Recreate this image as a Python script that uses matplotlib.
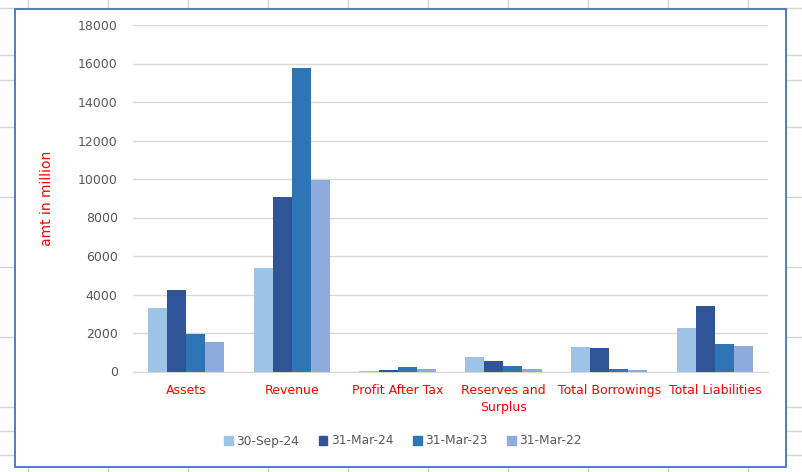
import numpy as np
import matplotlib.pyplot as plt
from matplotlib.lines import Line2D
from matplotlib.patches import Rectangle

# values (amt in million)
categories = ["Assets", "Revenue", "Profit After Tax", "Reserves and\nSurplus",
              "Total Borrowings", "Total Liabilities"]
series_names = ["30-Sep-24", "31-Mar-24", "31-Mar-23", "31-Mar-22"]
sep24 = [3300, 5380, 40, 750, 1270, 2250]
mar24 = [4220, 9050, 90, 545, 1220, 3390]
mar23 = [1950, 15750, 230, 285, 130, 1425]
mar22 = [1530, 9950, 130, 130, 80, 1320]
yticks = [0, 2000, 4000, 6000, 8000, 10000, 12000, 14000, 16000, 18000]

colors = ["#9DC3E6", "#2F5597", "#2E75B6", "#8FAADC"]

W, H = 803, 472
fig = plt.figure(figsize=(W / 100, H / 100), dpi=100)
fig.patch.set_facecolor("white")

# spreadsheet cell lines behind the chart
def px(x, y):
    return x / W, 1 - y / H

for y in [8, 55, 80, 127, 197, 267, 337, 407, 431, 455]:
    fig.add_artist(Line2D([0, 1], [1 - y / H] * 2, color="#d4d4d4", lw=1, zorder=0))
for x in range(28, W, 80):
    fig.add_artist(Line2D([x / W] * 2, [0, 1], color="#d4d4d4", lw=1, zorder=0))

# chart area with blue border
x0, y0 = px(15, 467)
x1, y1 = px(786, 9)
fig.add_artist(Rectangle((x0, y0), x1 - x0, y1 - y0, transform=fig.transFigure,
                         facecolor="white", edgecolor="#4472C4", lw=1.3, zorder=1))

ax = fig.add_axes([133 / W, 1 - 371.5 / H, (768 - 133) / W, (371.5 - 25) / H])
ax.set_zorder(2)
ax.patch.set_alpha(0)

x = np.arange(len(categories))
bw = 0.18
for i, (vals, name) in enumerate(zip([sep24, mar24, mar23, mar22], series_names)):
    ax.bar(x + (i - 1.5) * bw, vals, bw, color=colors[i], label=name, zorder=3)

ax.set_xlim(-0.5, len(categories) - 0.5)
ax.set_ylim(0, 18000)
ax.set_yticks(yticks)
ax.set_yticklabels([str(t) for t in yticks], color="#595959", fontsize=9)
ax.grid(axis="y", color="#d9d9d9", lw=1, zorder=0)
for s in ["top", "right", "left"]:
    ax.spines[s].set_visible(False)
ax.spines["bottom"].set_color("#d9d9d9")
ax.tick_params(length=0)
ax.tick_params(axis="y", pad=11)
ax.tick_params(axis="x", pad=9)
ax.set_xticks(x)
ax.set_xticklabels(categories, color="red", fontsize=9, linespacing=1.45)

fig.text(47 / W, 1 - 198 / H, "amt in million", color="red", fontsize=10,
         rotation=90, ha="center", va="center")

handles = [Rectangle((0, 0), 1, 1, color=c) for c in colors]
fig.legend(handles, series_names, loc="center", bbox_to_anchor=(403 / W, 1 - 441 / H),
           ncol=4, frameon=False, fontsize=8.8, labelcolor="#595959",
           handlelength=0.7, handleheight=0.7, handletextpad=0.3, columnspacing=1.6)

fig.savefig("out.png", dpi=100)
